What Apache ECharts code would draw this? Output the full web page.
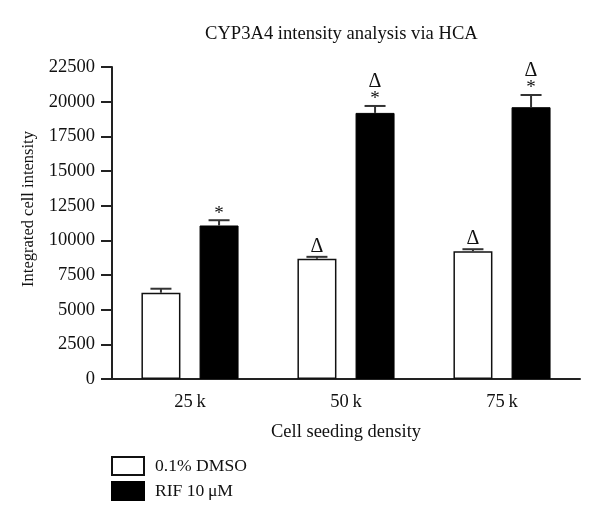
<!DOCTYPE html>
<html>
<head>
<meta charset="utf-8">
<script src="https://cdn.jsdelivr.net/npm/echarts@6/dist/echarts.min.js"></script>
<style>html,body{margin:0;padding:0;background:#fff;}#c{width:600px;height:523px;}</style>
</head>
<body>
<div id="c"></div>
<script>
var categories = ['25\u2009k', '50\u2009k', '75\u2009k'];
var seriesNames = ['0.1% DMSO', 'RIF 10\u2009\u03bcM'];
var dmsoValues = [6220, 8670, 9220];
var dmsoErrors = [290, 140, 140];
var rifValues = [11070, 19190, 19600];
var rifErrors = [380, 500, 880];
var dmsoMarks = ['', '\u0394', '\u0394'];
var rifMarks = ['*', '\u0394*', '\u0394*'];
var yTicks = [0, 2500, 5000, 7500, 10000, 12500, 15000, 17500, 20000, 22500];

var FONT = '"Liberation Serif", "DejaVu Serif", serif';
var BAR_W = 39;
var BAR_GAP = 0.49;
var chart = echarts.init(document.getElementById('c'));

function errSeries(name, values, errors, marks, sign) {
  return {
    type: 'custom',
    name: name + ' err',
    z: 5,
    silent: true,
    data: values.map(function (v, i) { return [i, v, errors[i], marks[i]]; }),
    renderItem: function (params, api) {
      var idx = api.value(0);
      var v = api.value(1), e = api.value(2);
      var base = api.coord([idx, v]);
      var top = api.coord([idx, v + e]);
      var off = sign * (BAR_W * (1 + BAR_GAP)) / 2;
      var x = base[0] + off;
      var children = [
        { type: 'line', shape: { x1: x, y1: base[1], x2: x, y2: top[1] }, style: { stroke: '#333', lineWidth: 2 } },
        { type: 'line', shape: { x1: x - 10.5, y1: top[1], x2: x + 10.5, y2: top[1] }, style: { stroke: '#333', lineWidth: 2 } }
      ];
      var m = marks[idx] || '';
      var hasStar = m.indexOf('*') >= 0;
      var hasDelta = m.indexOf('\u0394') >= 0;
      if (hasStar) {
        children.push({ type: 'text', style: { text: '*', x: x, y: top[1] + 3, align: 'center', verticalAlign: 'bottom', font: '19px ' + FONT, fill: '#111' } });
      }
      if (hasDelta) {
        children.push({ type: 'text', style: { text: '\u0394', x: x, y: top[1] - (hasStar ? 14 : 0), align: 'center', verticalAlign: 'bottom', font: '20px ' + FONT, fill: '#111' } });
      }
      return { type: 'group', children: children };
    }
  };
}

chart.setOption({
  animation: false,
  backgroundColor: '#fff',
  title: {
    text: 'CYP3A4 intensity analysis via HCA',
    left: 200, top: 20,
    textStyle: { fontFamily: FONT, fontSize: 18.6, fontWeight: 'normal', color: '#111' }
  },
  legend: {
    orient: 'vertical', left: 111, top: 456, padding: 0,
    itemWidth: 32, itemHeight: 18, itemGap: 5,
    icon: 'rect',
    data: seriesNames,
    textStyle: { fontFamily: FONT, fontSize: 17.6, color: '#111', padding: [0, 0, 0, 6] }
  },
  grid: { left: 112, right: 20, top: 67, bottom: 144 },
  xAxis: {
    type: 'category', data: categories,
    name: 'Cell seeding density', nameLocation: 'middle', nameGap: 44,
    nameTextStyle: { fontFamily: FONT, fontSize: 18.5, color: '#111' },
    axisLine: { lineStyle: { color: '#222', width: 2 } },
    axisTick: { alignWithLabel: true, length: 8, lineStyle: { color: '#222', width: 2 } },
    axisLabel: { fontFamily: FONT, fontSize: 18.5, color: '#111', margin: 14 }
  },
  yAxis: {
    type: 'value', min: 0, max: 22500, interval: 2500,
    name: 'Integrated cell intensity', nameLocation: 'middle', nameGap: 75,
    nameTextStyle: { fontFamily: FONT, fontSize: 16.5, color: '#111', padding: [0, 0, 0, 28] },
    axisLine: { show: true, lineStyle: { color: '#222', width: 2 } },
    axisTick: { show: true, length: 11, lineStyle: { color: '#222', width: 2 } },
    axisLabel: { fontFamily: FONT, fontSize: 18.5, color: '#111', margin: 17,
      formatter: function (v) { return yTicks.indexOf(v) >= 0 ? String(v) : ''; } },
    splitLine: { show: false }
  },
  series: [
    { type: 'bar', name: seriesNames[0], data: dmsoValues, barWidth: BAR_W, barGap: (BAR_GAP * 100) + '%',
      itemStyle: { color: '#fff', borderColor: '#111', borderWidth: 1.5 } },
    { type: 'bar', name: seriesNames[1], data: rifValues, barWidth: BAR_W,
      itemStyle: { color: '#000', borderColor: '#000', borderWidth: 1 } },
    errSeries(seriesNames[0], dmsoValues, dmsoErrors, dmsoMarks, -1),
    errSeries(seriesNames[1], rifValues, rifErrors, rifMarks, 1)
  ]
});
</script>
</body>
</html>
